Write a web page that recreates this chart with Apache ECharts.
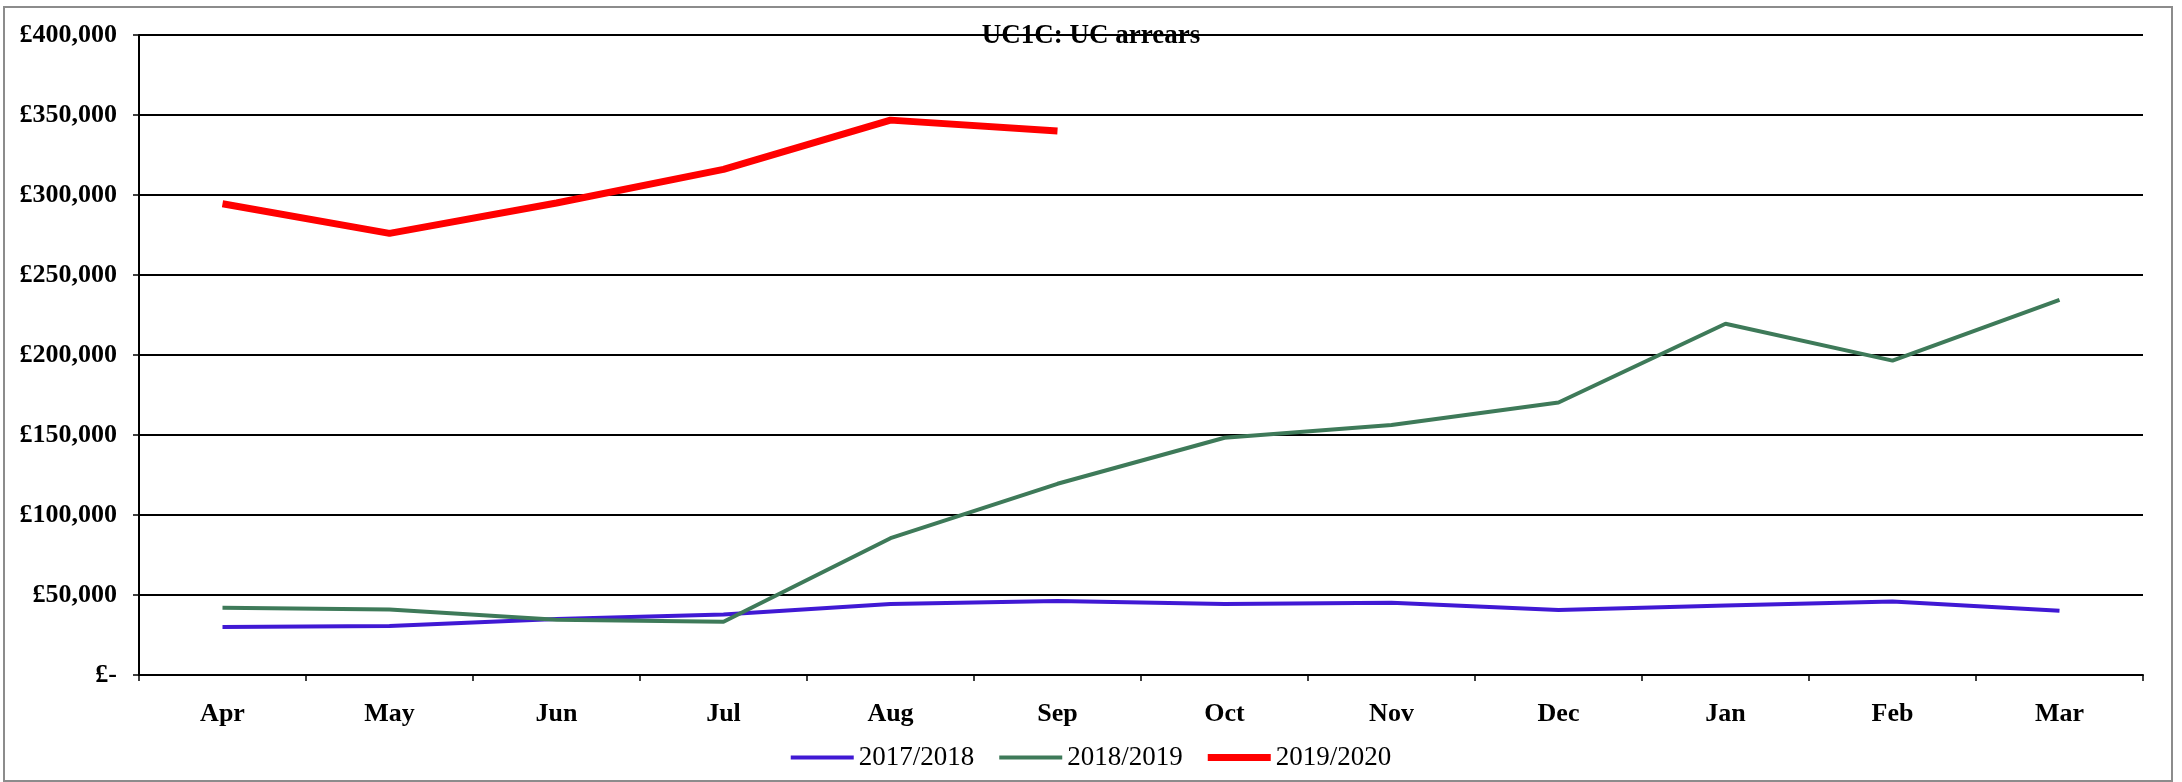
<!DOCTYPE html>
<html>
<head>
<meta charset="utf-8">
<title>UC1C: UC arrears</title>
<script src="https://cdn.jsdelivr.net/npm/echarts@6/dist/echarts.min.js"></script>
<style>
  html, body { margin: 0; padding: 0; background: #fff; }
  #chart { width: 2182px; height: 782px; }
</style>
</head>
<body>
<div id="chart"></div>
<script>
// Months of the financial year (April to March)
const months = ['Apr', 'May', 'Jun', 'Jul', 'Aug', 'Sep', 'Oct', 'Nov', 'Dec', 'Jan', 'Feb', 'Mar'];

// UC arrears by month, in pounds
const arrears2017 = [30000, 30600, 35000, 37800, 44400, 46200, 44400, 45200, 40600, 43500, 46000, 40200];
const arrears2018 = [42000, 41000, 34500, 33300, 85500, 119500, 148300, 156300, 170300, 219500, 196500, 234500];
const arrears2019 = [294500, 276000, 295000, 316000, 346800, 340000];

const seriesNames = ['2017/2018', '2018/2019', '2019/2020'];
const yTicks = [0, 50000, 100000, 150000, 200000, 250000, 300000, 350000, 400000];

const serif = "'Liberation Serif', 'Times New Roman', Times, serif";

// Flat bar icons for the legend; the thick one belongs to the current year
const thinBar = 'path://M0,0H63V4H0Z';
const thickBar = 'path://M0,0H63V7H0Z';

function poundLabel(v) {
  if (v === 0) return '£-';
  return '£' + v.toLocaleString('en-GB');
}

const chart = echarts.init(document.getElementById('chart'), null, { renderer: 'canvas' });

chart.setOption({
  animation: false,
  backgroundColor: '#ffffff',
  graphic: [{
    type: 'rect',
    silent: true,
    shape: { x: 4, y: 7, width: 2168, height: 774 },
    style: { fill: 'none', stroke: '#8c8c8c', lineWidth: 2 },
    z: -1
  }],
  title: {
    text: 'UC1C: UC arrears',
    left: 'center',
    top: 18,
    textStyle: { fontFamily: serif, fontWeight: 'bold', fontSize: 27, color: '#000' }
  },
  legend: {
    data: [
      { name: seriesNames[0], icon: thinBar },
      { name: seriesNames[1], icon: thinBar },
      { name: seriesNames[2], icon: thickBar }
    ],
    bottom: 6,
    left: 'center',
    itemWidth: 63,
    itemHeight: 7,
    itemGap: 25,
    symbolKeepAspect: true,
    textStyle: { fontFamily: serif, fontSize: 27, color: '#000' }
  },
  grid: { left: 139, right: 39, top: 35, bottom: 107, containLabel: false },
  xAxis: {
    type: 'category',
    data: months,
    boundaryGap: true,
    axisLine: { lineStyle: { color: '#000', width: 2 } },
    axisTick: { show: true, length: 6, lineStyle: { color: '#000', width: 1.5 } },
    axisLabel: { margin: 26, fontFamily: serif, fontWeight: 'bold', fontSize: 26, color: '#000' }
  },
  yAxis: {
    type: 'value',
    min: yTicks[0],
    max: yTicks[yTicks.length - 1],
    interval: yTicks[1] - yTicks[0],
    axisLine: { show: true, lineStyle: { color: '#000', width: 2 } },
    axisTick: { show: true, length: 6, lineStyle: { color: '#000', width: 1.5 } },
    splitLine: { show: true, lineStyle: { color: '#000', width: 2 } },
    axisLabel: { margin: 22, formatter: poundLabel, fontFamily: serif, fontWeight: 'bold', fontSize: 26, color: '#000' }
  },
  series: [
    {
      name: seriesNames[0],
      type: 'line',
      data: arrears2017,
      symbol: 'none',
      color: '#4019D4',
      lineStyle: { width: 4, color: '#4019D4' }
    },
    {
      name: seriesNames[1],
      type: 'line',
      data: arrears2018,
      symbol: 'none',
      color: '#3E7A59',
      lineStyle: { width: 4, color: '#3E7A59' }
    },
    {
      name: seriesNames[2],
      type: 'line',
      data: arrears2019,
      symbol: 'none',
      color: '#FF0000',
      lineStyle: { width: 7, color: '#FF0000' }
    }
  ]
});
</script>
</body>
</html>
